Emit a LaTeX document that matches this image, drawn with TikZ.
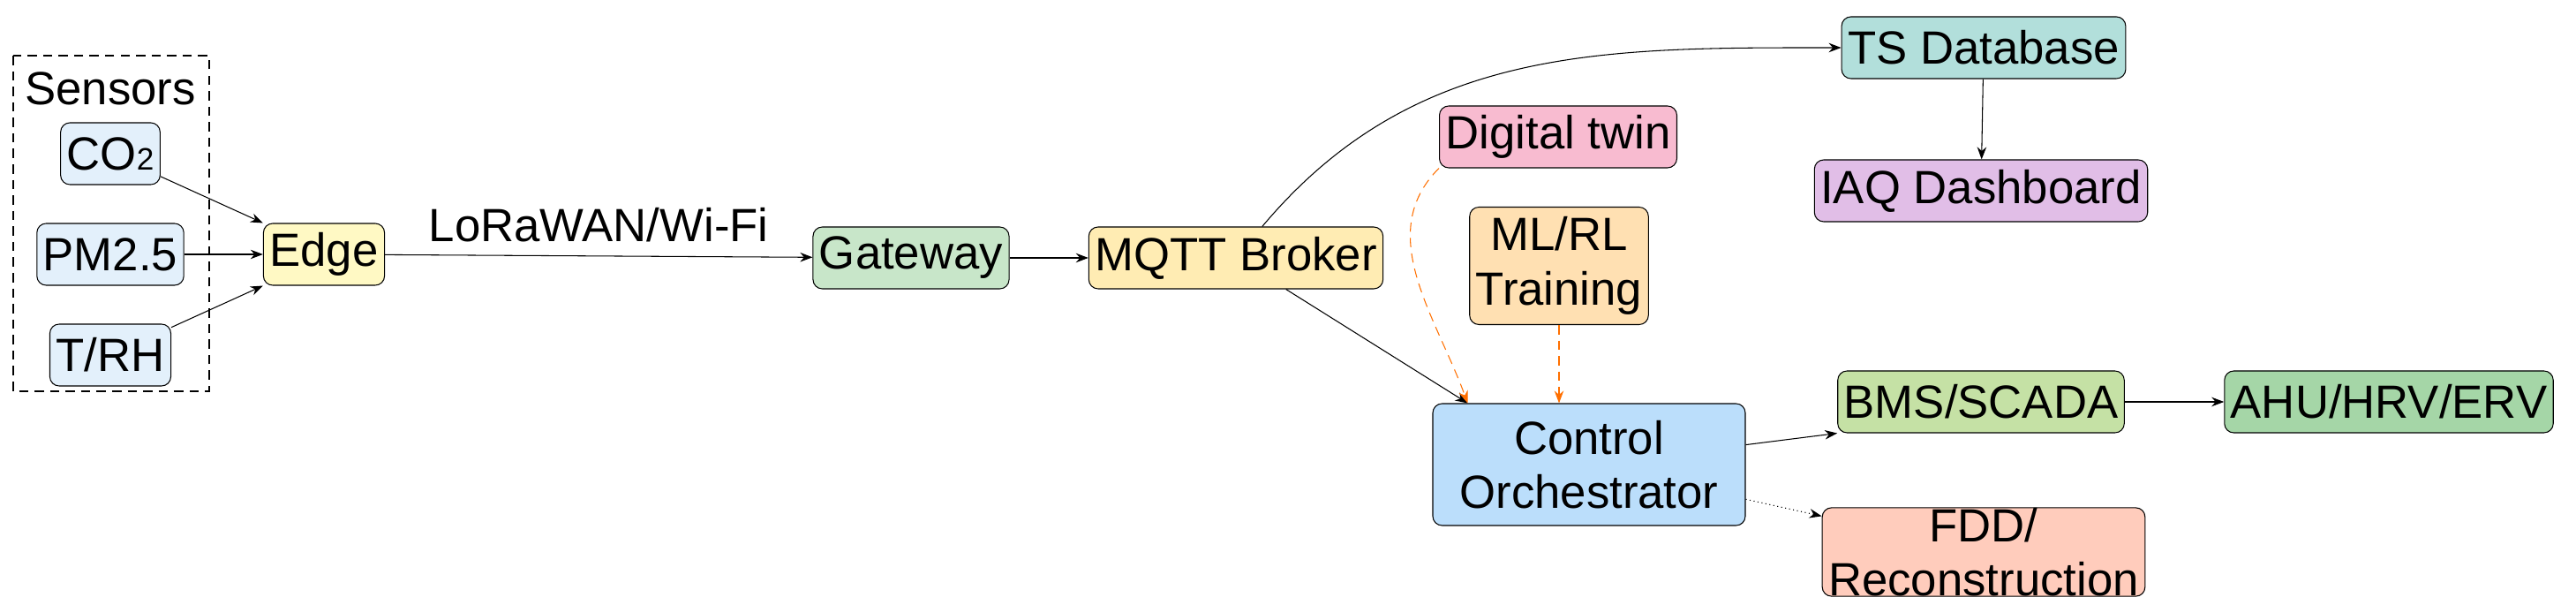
\documentclass[tikz,border=0pt]{standalone}
\usepackage{fontspec}
\setmainfont{Liberation Sans}
\usetikzlibrary{arrows.meta}
\definecolor{cSens}{HTML}{E3F0FB}
\definecolor{cEdge}{HTML}{FFF9C4}
\definecolor{cGate}{HTML}{C8E6C9}
\definecolor{cMqtt}{HTML}{FFECB3}
\definecolor{cTs}{HTML}{B2DFDB}
\definecolor{cIaq}{HTML}{E1BEE7}
\definecolor{cTwin}{HTML}{F8BBD0}
\definecolor{cMl}{HTML}{FFE0B2}
\definecolor{cCtrl}{HTML}{BBDEFB}
\definecolor{cBms}{HTML}{C5E1A5}
\definecolor{cAhu}{HTML}{A5D6A7}
\definecolor{cFdd}{HTML}{FFCCBC}
\definecolor{cOrange}{HTML}{FF6F00}
\begin{document}
\begin{tikzpicture}[>={Stealth[length=4pt,width=3pt]},line width=0.3pt,
		font=\fontsize{15}{17.5}\selectfont,
		box/.style={draw,rounded corners=3pt,minimum height=0.7cm,inner xsep=2pt,inner ysep=1pt,align=center},
		link/.style={->,black},
		ml link/.style={->,densely dashed,cOrange}]
		\useasboundingbox (0,0) rectangle (29.18,-6.85);
		% sensors
		\node (sens) at (1.25,-1.0) {Sensors};
		\node[box,fill=cSens] (co2) at (1.25,-1.74) {CO{\fontsize{10}{12}\selectfont 2}};
		\node[box,fill=cSens] (pm) at (1.25,-2.88) {PM2.5};
		\node[box,fill=cSens] (trh) at (1.25,-4.02) {T/RH};
		\draw[densely dashed] (0.15,-0.63) rectangle (2.37,-4.43);
		% pipeline
		\node[box,fill=cEdge] (edge) at (3.67,-2.88) {Edge};
		\node[box,fill=cGate] (gw) at (10.32,-2.92) {Gateway};
		\node[box,fill=cMqtt] (mqtt) at (14.0,-2.92) {MQTT Broker};
		\node[box,fill=cTs] (ts) at (22.47,-0.54) {TS Database};
		\node[box,fill=cIaq] (iaq) at (22.44,-2.16) {IAQ Dashboard};
		\node[box,fill=cTwin] (twin) at (17.65,-1.55) {Digital twin};
		\node[box,fill=cMl,minimum height=1.33cm] (ml) at (17.66,-3.01) {ML/RL\\Training};
		\node[box,fill=cCtrl,minimum width=3.54cm,minimum height=1.38cm] (ctrl) at (18.0,-5.26) {Control\\Orchestrator};
		\node[box,fill=cBms] (bms) at (22.44,-4.55) {BMS/SCADA};
		\node[box,fill=cAhu] (ahu) at (27.06,-4.55) {AHU/HRV/ERV};
		\node[box,fill=cFdd,inner ysep=0pt] (fdd) at (22.47,-6.25) {FDD/\\Reconstruction};
		\path
		(co2) edge[link] (edge.north west)
		(pm) edge[link] (edge)
		(trh) edge[link] (edge.south west)
		(edge) edge[link] node[above=1pt] {LoRaWAN/Wi-Fi} (gw)
		(gw) edge[link] (mqtt)
		(mqtt) edge[link,out=50,in=180] (ts)
		(ts) edge[link] (iaq)
		(mqtt) edge[link] ([xshift=4mm]ctrl.north west)
		(twin.south west) edge[ml link,out=225,in=110] ([xshift=4mm]ctrl.north west)
		(ml) edge[ml link] (ml |- ctrl.north)
		(ctrl) edge[link] (bms.south west)
		(bms) edge[link] (ahu)
		(ctrl) edge[link,densely dotted] (fdd);
\end{tikzpicture}
\end{document}
